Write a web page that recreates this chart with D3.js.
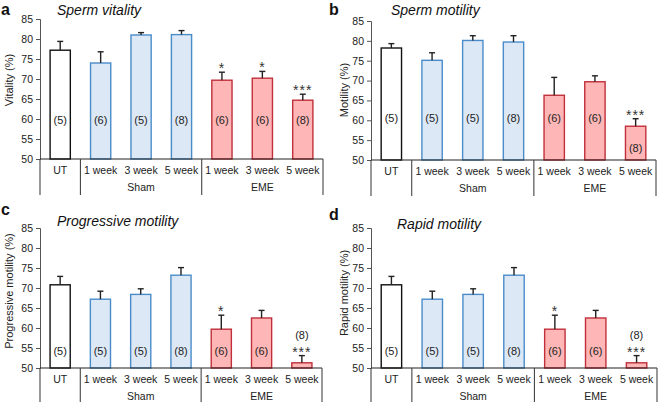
<!DOCTYPE html>
<html><head><meta charset="utf-8">
<script src="https://cdn.jsdelivr.net/npm/d3@7"></script>
<style>
html,body{margin:0;padding:0;background:#fff;}
svg{display:block;font-family:"Liberation Sans",Arial,sans-serif;}
svg text{font-family:"Liberation Sans",Arial,sans-serif;}
</style></head>
<body><svg id="c" width="658" height="402"></svg>
<script>
const categories = ["UT","1 week","3 week","5 week","1 week","3 week","5 week"];
const groups = ["UT","Sham","Sham","Sham","EME","EME","EME"];
const groupLabels = ["Sham","EME"];
const yTicks = [50,55,60,65,70,75,80,85];

const vitality = [77.2, 74.0, 81.0, 81.1, 69.7, 70.2, 64.7];
const vitalityErr = [2.2, 2.8, 0.6, 1.0, 2.0, 1.7, 1.5];
const vitalityN = [5, 6, 5, 8, 6, 6, 8];
const vitalitySig = ["", "", "", "", "*", "*", "***"];

const motility = [78.2, 75.1, 80.1, 79.7, 66.3, 69.7, 58.5];
const motilityErr = [1.1, 1.9, 1.2, 1.6, 4.5, 1.5, 1.9];
const motilityN = [5, 5, 5, 8, 6, 6, 8];
const motilitySig = ["", "", "", "", "", "", "***"];

const progressive = [70.8, 67.2, 68.4, 73.2, 59.7, 62.5, 51.3];
const progressiveErr = [2.1, 2.0, 1.4, 1.9, 3.5, 1.9, 1.8];
const progressiveN = [5, 5, 5, 8, 6, 6, 8];
const progressiveSig = ["", "", "", "", "*", "", "***"];

const rapid = [70.8, 67.2, 68.4, 73.2, 59.7, 62.5, 51.3];
const rapidErr = [2.1, 2.0, 1.4, 1.9, 3.5, 1.9, 1.8];
const rapidN = [5, 5, 5, 8, 6, 6, 8];
const rapidSig = ["", "", "", "", "*", "", "***"];

const panels = [
  {letter:"a", title:"Sperm vitality", ylab:"Vitality (%)", vals:vitality, err:vitalityErr, n:vitalityN, sig:vitalitySig,
   x0:40, y0:19, w:283, h:140, letterX:1, letterY:15, titleX:57, titleY:15, ylabX:13, ylabY:80, nFrac:0.28, lastMode:"normal"},
  {letter:"b", title:"Sperm motility", ylab:"Motility (%)", vals:motility, err:motilityErr, n:motilityN, sig:motilitySig,
   x0:371, y0:21, w:285, h:139, letterX:329, letterY:15, titleX:391, titleY:15, ylabX:348, ylabY:90, nFrac:0.30, lastMode:"inside"},
  {letter:"c", title:"Progressive motility", ylab:"Progressive motility (%)", vals:progressive, err:progressiveErr, n:progressiveN, sig:progressiveSig,
   x0:40, y0:228, w:282, h:140, letterX:1, letterY:215, titleX:57, titleY:226, ylabX:13, ylabY:291, nFrac:0.12, lastMode:"above"},
  {letter:"d", title:"Rapid motility", ylab:"Rapid motility (%)", vals:rapid, err:rapidErr, n:rapidN, sig:rapidSig,
   x0:371, y0:228, w:286, h:140, letterX:329, letterY:220, titleX:397, titleY:229, ylabX:348, ylabY:293, nFrac:0.12, lastMode:"above"}
];

const fills = {UT:"#ffffff", Sham:"#dce8f5", EME:"#ffb6b6"};
const strokes = {UT:"#111111", Sham:"#4a8cc9", EME:"#c0303a"};
const FONT = "'Liberation Sans',Arial,sans-serif";

const svg = d3.select("#c");

panels.forEach(p => {
  svg.append("text").attr("x",p.letterX).attr("y",p.letterY)
    .attr("font-size",16).attr("font-weight","bold").attr("fill","#111").text(p.letter);
  svg.append("text").attr("x",p.titleX).attr("y",p.titleY)
    .attr("font-size",14).attr("font-style","italic").attr("fill","#111").text(p.title);
  svg.append("text").attr("transform",`translate(${p.ylabX},${p.ylabY}) rotate(-90)`)
    .attr("text-anchor","middle").attr("font-size",11).attr("fill","#222").text(p.ylab);

  const g = svg.append("g").attr("transform",`translate(${p.x0},${p.y0})`);
  const x = d3.scaleBand().domain(d3.range(categories.length)).range([0,p.w]).paddingInner(0.5).paddingOuter(0.25);
  const y = d3.scaleLinear().domain([50,85]).range([p.h,0]);

  const yAxis = d3.axisLeft(y).tickValues(yTicks).tickSize(4).tickPadding(3);
  const ya = g.append("g").call(yAxis).attr("font-family",FONT);
  ya.select(".domain").attr("stroke","#555");
  ya.selectAll(".tick line").attr("stroke","#555");
  ya.selectAll("text").attr("font-size",10.5).attr("fill","#222");

  const data = p.vals.map((v,i)=>({i, v, e:p.err[i], n:p.n[i], s:p.sig[i], grp:groups[i]}));

  g.selectAll("rect.bar").data(data).enter().append("rect")
    .attr("x",d=>x(d.i)).attr("width",x.bandwidth())
    .attr("y",d=>y(d.v)).attr("height",d=>y(50)-y(d.v))
    .attr("fill",d=>fills[d.grp]).attr("stroke",d=>strokes[d.grp]).attr("stroke-width",1.4);

  const cx = d => x(d.i)+x.bandwidth()/2;
  g.selectAll("line.err").data(data).enter().append("line")
    .attr("x1",cx).attr("x2",cx).attr("y1",d=>y(d.v)).attr("y2",d=>y(d.v+d.e))
    .attr("stroke","#222").attr("stroke-width",1.4);
  g.selectAll("line.cap").data(data).enter().append("line")
    .attr("x1",d=>cx(d)-3).attr("x2",d=>cx(d)+3).attr("y1",d=>y(d.v+d.e)).attr("y2",d=>y(d.v+d.e))
    .attr("stroke","#222").attr("stroke-width",1.4);

  g.selectAll("text.sig").data(data.filter(d=>d.s)).enter().append("text")
    .attr("x",cx).attr("y",d=>y(d.v+d.e)+1)
    .attr("text-anchor","middle").attr("font-size",14).attr("letter-spacing",1).attr("fill","#333").text(d=>d.s);

  const nY = p.h*(1-p.nFrac);
  g.selectAll("text.n").data(data).enter().append("text")
    .attr("x",cx)
    .attr("y",d=>{
      if (d.i===data.length-1 && p.lastMode==="inside") return y(d.v) + (y(50)-y(d.v))*0.65 + 4;
      if (d.i===data.length-1 && p.lastMode==="above") return y(d.v+d.e) - 17;
      return nY + 4;
    })
    .attr("text-anchor","middle").attr("font-size",11).attr("fill","#222").text(d=>`(${d.n})`);

  const bot = g.append("g");
  bot.append("line").attr("x1",0).attr("x2",p.w).attr("y1",p.h).attr("y2",p.h).attr("stroke","#222").attr("stroke-width",1.2);
  const step = x.step();
  [0, step, step*4, p.w].forEach(bx=>{
    bot.append("line").attr("x1",bx).attr("x2",bx).attr("y1",p.h).attr("y2",p.h+36)
      .attr("stroke","#444").attr("stroke-width",1.1);
  });
  bot.selectAll("text.cat").data(categories).enter().append("text")
    .attr("x",(d,i)=>x(i)+x.bandwidth()/2).attr("y",p.h+15)
    .attr("text-anchor","middle").attr("font-size",10.5).attr("fill","#222").text(d=>d);
  bot.selectAll("text.grp").data(groupLabels).enter().append("text")
    .attr("x",(d,i)=> i===0 ? step*2.5 : step*5.5).attr("y",p.h+32)
    .attr("text-anchor","middle").attr("font-size",10.5).attr("fill","#222").text(d=>d);
});
</script></body></html>
